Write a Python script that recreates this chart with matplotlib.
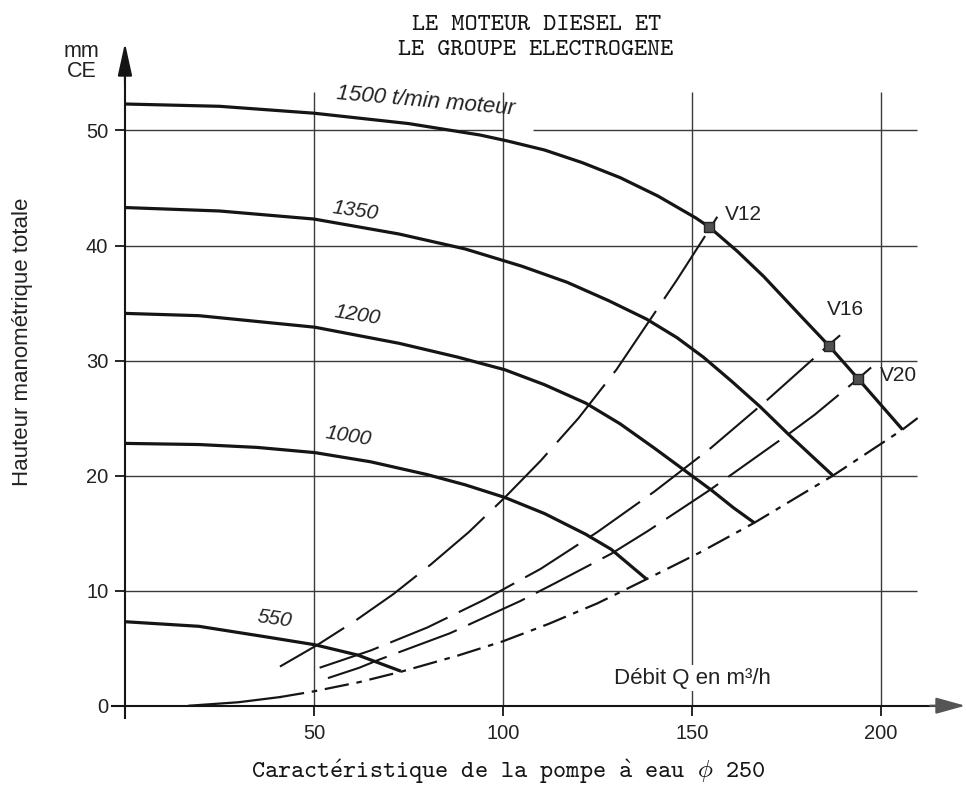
import matplotlib.pyplot as plt

plt.rcParams['font.family'] = ['Liberation Sans', 'DejaVu Sans']
plt.rcParams['mathtext.fontset'] = 'cm'

# courbes hauteur / debit de la pompe pour chaque regime moteur (m3/h, mm CE)
q_1500 = [0, 25, 50, 75, 94, 101, 111, 121, 131, 141, 151, 154.6, 162, 169, 179, 186.2, 194, 205.7]
h_1500 = [52.3, 52.1, 51.5, 50.6, 49.6, 49.1, 48.3, 47.2, 45.9, 44.3, 42.4, 41.6, 39.5, 37.3, 33.8, 31.3, 28.4, 24.0]

q_1350 = [0, 25, 50, 72.5, 90, 105, 117, 128, 138, 146, 153, 160.5, 168, 175.5, 187.3]
h_1350 = [43.3, 43.0, 42.3, 41.0, 39.7, 38.2, 36.8, 35.2, 33.6, 32.0, 30.3, 28.2, 26.0, 23.6, 20.0]

q_1200 = [0, 19.6, 50.2, 72.5, 88, 100.5, 111, 121.9, 131, 140, 149.1, 155.3, 161, 166.5]
h_1200 = [34.1, 33.9, 32.9, 31.5, 30.3, 29.2, 27.9, 26.3, 24.5, 22.4, 20.2, 18.7, 17.2, 15.9]

q_1000 = [0, 19.6, 35, 50.2, 65, 79.8, 90, 100.5, 111, 121.9, 128.6, 138]
h_1000 = [22.8, 22.7, 22.45, 22.0, 21.2, 20.1, 19.2, 18.1, 16.7, 14.9, 13.6, 11.0]

q_550 = [0, 19.6, 37, 50.2, 61.6, 73]
h_550 = [7.3, 6.9, 6.0, 5.3, 4.4, 3.0]

# limite de fonctionnement (trait mixte)
q_lim = [17, 30, 41, 50, 62, 73, 88, 100, 112, 125, 138, 152, 166.5, 187.3, 205.7, 209.7]
h_lim = [0, 0.3, 0.75, 1.25, 2.05, 2.95, 4.35, 5.6, 7.1, 8.9, 11.0, 13.3, 15.9, 20.0, 24.0, 25.0]

# courbes de circuit V12, V16, V20
q_v12 = [41, 51, 61, 71, 81, 91, 100.5, 110, 120, 130, 138, 146, 154.8, 156.7]
h_v12 = [3.4, 5.3, 7.4, 9.7, 12.3, 15.1, 18.1, 21.3, 25.0, 29.2, 33.1, 37.0, 41.5, 42.5]

q_v16 = [51.5, 65, 80, 95, 110, 125, 140, 155, 170, 186, 189.2]
h_v16 = [3.3, 4.8, 6.8, 9.2, 11.9, 15.1, 18.6, 22.4, 26.6, 31.3, 32.2]

q_v20 = [53.7, 62, 67.2, 86, 104.6, 113.5, 128.6, 138.4, 154.5, 160.5, 175.5, 182.5, 193.9, 197.4]
h_v20 = [2.4, 3.3, 4.0, 6.3, 9.1, 10.6, 13.2, 15.2, 18.7, 20.1, 23.6, 25.3, 28.4, 29.4]

# points de fonctionnement
pt_names = ['V12', 'V16', 'V20']
pt_q = [154.6, 186.2, 194]
pt_h = [41.6, 31.3, 28.4]

x_ticks = [50, 100, 150, 200]
y_ticks = [0, 10, 20, 30, 40, 50]

ink = '#151515'
grid = '#3a3a3a'
txt = '#222222'

fig = plt.figure(figsize=(9.66, 7.89), dpi=100)
ax = fig.add_axes([0.1098, 0.0837, 0.8902, 0.8749])
ax.set_xlim(-5, 222.5)
ax.set_ylim(-1.5, 58.5)

# axes en croix avec fleches
for s in ['top', 'right']:
    ax.spines[s].set_visible(False)
ax.spines['left'].set_position(('data', 0))
ax.spines['bottom'].set_position(('data', 0))
ax.spines['left'].set_bounds(-1.1, 56)
ax.spines['bottom'].set_bounds(-3.4, 216)
for s in ['left', 'bottom']:
    ax.spines[s].set_linewidth(1.5)
    ax.spines[s].set_color(ink)
ax.annotate('', xy=(0, 57.6), xytext=(0, 54),
            arrowprops=dict(arrowstyle='-|>,head_length=1.0,head_width=0.22', color=ink,
                            lw=1.5, mutation_scale=20, shrinkA=0, shrinkB=0))
ax.annotate('', xy=(222.3, 0), xytext=(213, 0),
            arrowprops=dict(arrowstyle='-|>,head_length=0.9,head_width=0.25', color='#555555',
                            lw=1.5, mutation_scale=20, shrinkA=0, shrinkB=0))

ax.set_xticks(x_ticks)
ax.set_yticks(y_ticks)
ax.tick_params(direction='out', length=7, width=1.3, color=ink, labelsize=14.5, labelcolor=txt)
ax.tick_params(axis='x', pad=6)
ax.tick_params(axis='y', pad=5)

# quadrillage
ax.hlines(y_ticks[1:5], 0, 209.5, color=grid, lw=1.0, zorder=1)
ax.hlines(50, 0, 100, color=grid, lw=1.0, zorder=1)
ax.hlines(50, 108, 209.5, color=grid, lw=1.0, zorder=1)
ax.vlines(x_ticks, 0, 53.3, color=grid, lw=1.0, zorder=1)

# courbes de la pompe
for q, h in [(q_1500, h_1500), (q_1350, h_1350), (q_1200, h_1200), (q_1000, h_1000), (q_550, h_550)]:
    ax.plot(q, h, color=ink, lw=2.3, solid_capstyle='butt', solid_joinstyle='round', zorder=4)

ax.plot(q_lim[:3], h_lim[:3], color=ink, lw=1.6, zorder=3)
ax.plot(q_lim[2:], h_lim[2:], color=ink, lw=1.6, dashes=(11, 3.5, 2.5, 3.5), zorder=3)

ax.plot(q_v12, h_v12, color=ink, lw=1.5, dashes=(36, 7), zorder=3)
ax.plot(q_v16, h_v16, color=ink, lw=1.5, dashes=(30, 6), zorder=3)
ax.plot(q_v20, h_v20, color=ink, lw=1.5, dashes=(30, 6), zorder=3)

ax.plot(pt_q, pt_h, 's', color='#505050', mec='#222222', ms=6.5, zorder=5)
label_pos = [(158.7, 42.7), (185.7, 34.4), (199.7, 28.7)]
for name, (lx, ly) in zip(pt_names, label_pos):
    ax.text(lx, ly, name, fontsize=15, color=txt, ha='left', va='center')

# etiquettes des regimes
ax.text(79.6, 52.5, '1500 t/min moteur', fontsize=16, style='italic', rotation=-5,
        ha='center', va='center', color=txt)
ax.text(60.8, 43.0, '1350', fontsize=15, style='italic', rotation=-8, ha='center', va='center', color=txt)
ax.text(61.4, 33.9, '1200', fontsize=15, style='italic', rotation=-9, ha='center', va='center', color=txt)
ax.text(59.0, 23.4, '1000', fontsize=15, style='italic', rotation=-9, ha='center', va='center', color=txt)
ax.text(39.7, 7.5, '550', fontsize=15, style='italic', rotation=-8, ha='center', va='center', color=txt)

ax.text(150, 2.4, 'Débit Q en m³/h', fontsize=16, ha='center', va='center', color=txt,
        bbox=dict(facecolor='white', edgecolor='none', pad=2), zorder=2)

ax.text(-11.6, 56.9, 'mm', fontsize=15.5, ha='center', va='center', color=txt)
ax.text(-11.4, 55.1, 'CE', fontsize=15.5, ha='center', va='center', color=txt)

fig.text(0.0228, 0.567, 'Hauteur manométrique totale', rotation=90, fontsize=16,
         ha='center', va='center', color=txt)

fig.text(0.556, 0.962, 'LE MOTEUR DIESEL ET', family='cmtt10', fontsize=18, ha='center', va='baseline', color=ink)
fig.text(0.554, 0.930, 'LE GROUPE ELECTROGENE', family='cmtt10', fontsize=18, ha='center', va='baseline', color=ink)
fig.text(0.526, 0.0135, r'Caract$\acute{\mathtt{e}}$ristique de la pompe $\grave{\mathtt{a}}$ eau $\phi$ 250',
         family='cmtt10', fontsize=18, ha='center', va='baseline', color=ink)

fig.savefig('out.png', dpi=100, facecolor='white')
